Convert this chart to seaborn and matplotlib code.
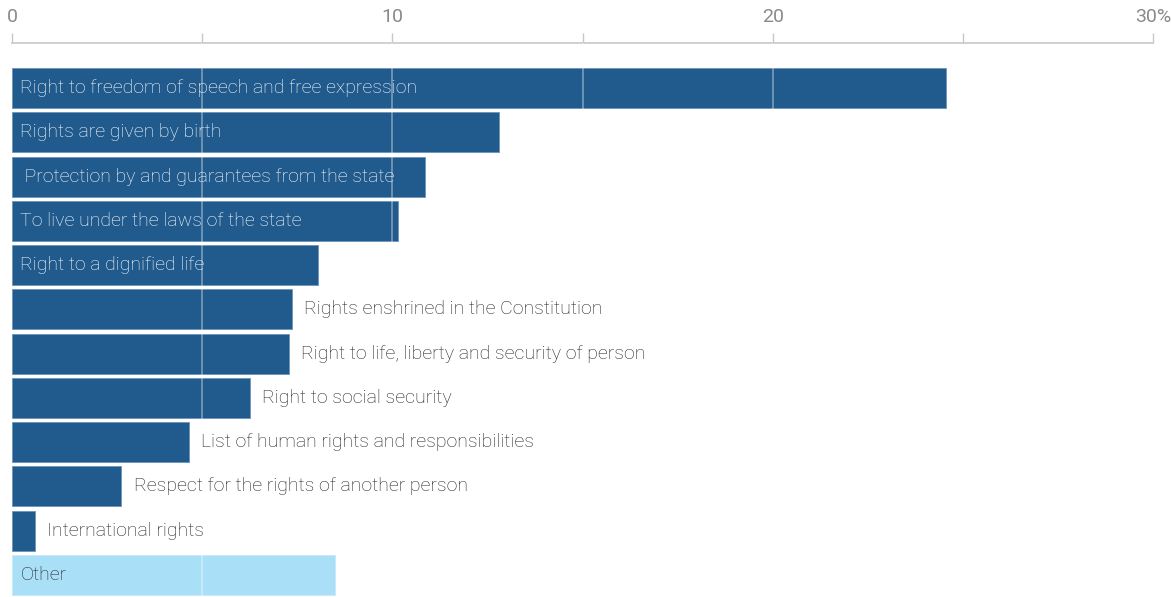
import pandas as pd
import numpy as np
import matplotlib
matplotlib.use("Agg")
import matplotlib.pyplot as plt
import seaborn as sns

labels = [
    "Right to freedom of speech and free expression",
    "Rights are given by birth",
    " Protection by and guarantees from the state",
    "To live under the laws of the state",
    "Right to a dignified life",
    "Rights enshrined in the Constitution",
    "Right to life, liberty and security of person",
    "Right to social security",
    "List of human rights and responsibilities",
    "Respect for the rights of another person",
    "International rights",
    "Other",
]
values = [24.55, 12.8, 10.85, 10.15, 8.05, 7.35, 7.28, 6.25, 4.65, 2.87, 0.6, 8.5]
inside = [True, True, True, True, True, False, False, False, False, False, False, True]
group = ["main"] * 11 + ["other"]

x_ticks = [0, 5, 10, 15, 20, 25, 30]
x_ticklabels = ["0", "", "10", "", "20", "", "30%"]

dark_blue = "#215a8c"
light_blue = "#aadff8"
text_dark = "#222222"

df = pd.DataFrame({"label": labels, "value": values, "group": group})

sns.set_style("white")
plt.rcParams["font.family"] = ["Roboto", "DejaVu Sans"]

fig = plt.figure(figsize=(11.71, 5.97), dpi=100)
ax = fig.add_axes([12 / 1171, 0, (1153 - 12) / 1171, (597 - 43) / 597])

sns.barplot(data=df, x="value", y="label", hue="group", orient="h",
            palette={"main": dark_blue, "other": light_blue}, saturation=1,
            width=0.9, legend=False, ax=ax, linewidth=0.6)
for p in ax.patches:
    fc = p.get_facecolor()
    p.set_edgecolor("#6a93bb" if fc[2] < 0.7 else "#c6ebfb")

# light lines over the bars
for t in [5, 10, 15, 20]:
    ax.axvline(t, color="white", alpha=0.4, lw=1.2, zorder=5)

for i, (lab, v, ins) in enumerate(zip(labels, values, inside)):
    if ins:
        col = "white" if group[i] == "main" else text_dark
        ax.annotate(lab, (0, i), xytext=(6, 0), textcoords="offset points",
                    ha="left", va="center", fontsize=14, color=col,
                    fontweight="light", zorder=6)
    else:
        ax.annotate(lab, (v, i), xytext=(9, 0), textcoords="offset points",
                    ha="left", va="center", fontsize=14, color=text_dark,
                    fontweight="light", zorder=6)

ax.set_xlim(0, 30)
ax.set_ylim(11.5, -1.02)
ax.xaxis.set_ticks_position("top")
ax.xaxis.set_label_position("top")
ax.set_xticks(x_ticks)
ax.set_xticklabels(x_ticklabels)
ax.tick_params(axis="x", direction="out", length=7, width=1, color="#c8c8c8",
               labelcolor="#8a8a8a", labelsize=14, pad=5)
ax.set_yticks([])
ax.set_xlabel("")
ax.set_ylabel("")
for s in ["left", "right", "bottom"]:
    ax.spines[s].set_visible(False)
ax.spines["top"].set_color("#c8c8c8")
ax.spines["top"].set_linewidth(1.2)

fig.savefig("out.png", dpi=100)
